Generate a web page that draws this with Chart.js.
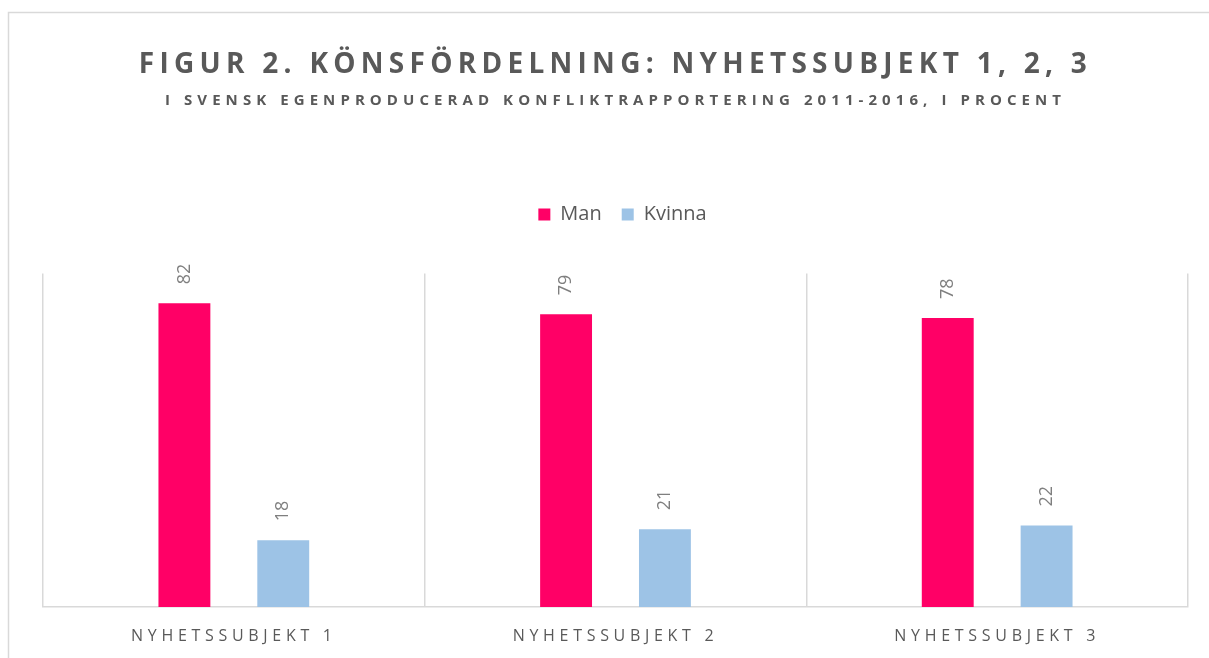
<!DOCTYPE html>
<html>
<head>
<meta charset="utf-8">
<script src="https://cdn.jsdelivr.net/npm/chart.js@4.4.1/dist/chart.umd.min.js"></script>
<style>
  html, body { margin: 0; padding: 0; background: #ffffff; }
  #wrap { position: relative; width: 1209px; height: 658px; }
</style>
</head>
<body>
<div id="wrap"><canvas id="c"></canvas></div>
<script>
const categories = ['NYHETSSUBJEKT 1', 'NYHETSSUBJEKT 2', 'NYHETSSUBJEKT 3'];
const seriesNames = ['Man', 'Kvinna'];
const manValues = [82, 79, 78];
const kvinnaValues = [18, 21, 22];
const titleText = 'FIGUR 2. KÖNSFÖRDELNING: NYHETSSUBJEKT 1, 2, 3';
const subtitleText = 'I SVENSK EGENPRODUCERAD KONFLIKTRAPPORTERING 2011-2016, I PROCENT';

const FONT = '"Open Sans", "Noto Sans", sans-serif';
const TEXT_COLOR = '#595959';
const GRID_COLOR = '#d9d9d9';

function spacingFor(ctx, text, font, target) {
  ctx.save();
  ctx.font = font;
  ctx.letterSpacing = '0px';
  const w = ctx.measureText(text).width;
  ctx.restore();
  return Math.max(0, (target - w) / (text.length - 1));
}

function wrapBox(box, text, font, target) {
  if (!box || box.__ls) return;
  box.__ls = true;
  const orig = box.draw;
  box.draw = function (...args) {
    const ctx = this.ctx;
    const prev = ctx.letterSpacing;
    ctx.letterSpacing = spacingFor(ctx, text, font, target) + 'px';
    orig.apply(this, args);
    ctx.letterSpacing = prev;
  };
}

const spacingPlugin = {
  id: 'spacingPlugin',
  afterLayout(chart) {
    wrapBox(chart.titleBlock, titleText, 'bold 28px ' + FONT, 948);
    const sub = chart.boxes.find(b => b !== chart.titleBlock && b.options && b.options.text === subtitleText);
    wrapBox(sub, subtitleText, 'bold 15px ' + FONT, 896);
    const lg = chart.legend;
    if (lg && !lg.__shift) {
      lg.__shift = true;
      const origDraw = lg.draw;
      lg.draw = function (...args) {
        const ctx = this.ctx;
        ctx.save();
        ctx.translate(7, 0);
        origDraw.apply(this, args);
        ctx.restore();
      };
    }
    const xs = chart.scales.x;
    if (xs && !xs.__ls) {
      xs.__ls = true;
      const origLabels = xs.drawLabels;
      xs.drawLabels = function (...args) {
        const ctx = this.ctx;
        const prev = ctx.letterSpacing;
        ctx.letterSpacing = spacingFor(ctx, categories[0], '16px ' + FONT, 201) + 'px';
        origLabels.apply(this, args);
        ctx.letterSpacing = prev;
      };
    }
  },
  beforeDraw(chart) {
    const ctx = chart.ctx;
    ctx.save();
    ctx.fillStyle = '#ffffff';
    ctx.fillRect(0, 0, chart.width, chart.height);
    ctx.strokeStyle = GRID_COLOR;
    ctx.lineWidth = 1.5;
    ctx.strokeRect(8.5, 12.5, chart.width + 50, chart.height + 50);
    ctx.restore();
  }
};

const dataLabelPlugin = {
  id: 'dataLabelPlugin',
  afterDatasetsDraw(chart) {
    const ctx = chart.ctx;
    ctx.save();
    ctx.font = '18px ' + FONT;
    ctx.fillStyle = '#7f7f7f';
    ctx.textAlign = 'left';
    ctx.textBaseline = 'middle';
    chart.data.datasets.forEach((ds, di) => {
      const meta = chart.getDatasetMeta(di);
      meta.data.forEach((bar, i) => {
        ctx.save();
        ctx.translate(bar.x, bar.y - 19);
        ctx.rotate(-Math.PI / 2);
        ctx.fillText(String(ds.data[i]), 0, 0);
        ctx.restore();
      });
    });
    ctx.restore();
  }
};

new Chart(document.getElementById('c'), {
  type: 'bar',
  data: {
    labels: categories,
    datasets: [
      { label: seriesNames[0], data: manValues, backgroundColor: '#ff0066', borderWidth: 0 },
      { label: seriesNames[1], data: kvinnaValues, backgroundColor: '#9dc3e6', borderWidth: 0 }
    ]
  },
  options: {
    responsive: true,
    maintainAspectRatio: false,
    animation: false,
    devicePixelRatio: 1,
    layout: { padding: { left: 43, right: 21, top: 0, bottom: 0 } },
    datasets: { bar: { categoryPercentage: 0.518, barPercentage: 0.525 } },
    plugins: {
      title: {
        display: true,
        text: titleText,
        color: TEXT_COLOR,
        font: { family: FONT, size: 28, weight: 'bold', lineHeight: 1.2 },
        padding: { top: 48, bottom: 1 }
      },
      subtitle: {
        display: true,
        text: subtitleText,
        color: TEXT_COLOR,
        font: { family: FONT, size: 15, weight: 'bold', lineHeight: 1.2 },
        padding: { top: 9, bottom: 75 }
      },
      legend: {
        display: true,
        position: 'top',
        labels: {
          color: TEXT_COLOR,
          font: { family: FONT, size: 20 },
          boxWidth: 12,
          boxHeight: 12,
          padding: 20
        }
      },
      tooltip: { enabled: false }
    },
    scales: {
      x: {
        type: 'category',
        position: 'bottom',
        grid: { display: true, color: GRID_COLOR, lineWidth: 1.5, drawTicks: false, offset: true },
        border: { display: true, color: GRID_COLOR, width: 1.5 },
        ticks: { color: TEXT_COLOR, font: { family: FONT, size: 16 }, padding: 20, maxRotation: 0 },
        afterFit(s) { s.height = 51; }
      },
      xTop: {
        type: 'linear',
        position: 'top',
        display: true,
        grid: { display: false },
        border: { display: false },
        ticks: { display: false },
        afterFit(s) { s.height = 39; }
      },
      y: {
        display: false,
        min: 0,
        max: 90,
        beginAtZero: true
      }
    }
  },
  plugins: [spacingPlugin, dataLabelPlugin]
});
</script>
</body>
</html>
